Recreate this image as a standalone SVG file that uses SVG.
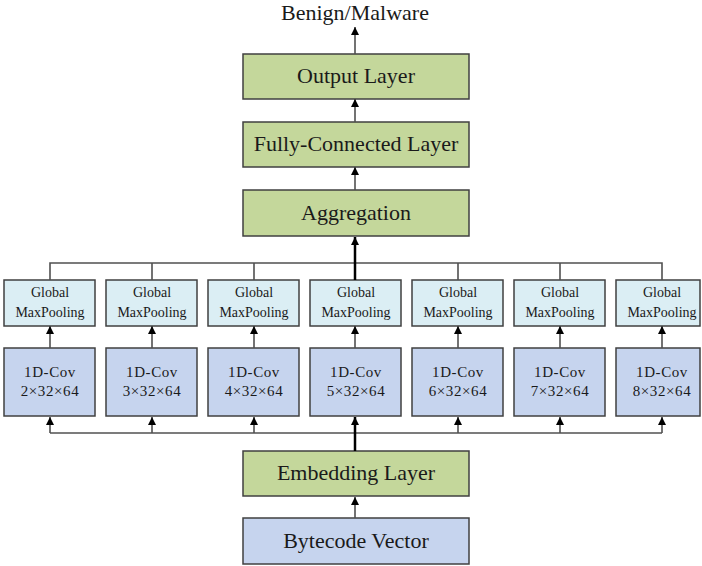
<svg xmlns="http://www.w3.org/2000/svg" width="702" height="566" viewBox="0 0 702 566">
<style>
text{font-family:"Liberation Serif","Times New Roman",serif;fill:#1a1a1a;text-anchor:middle}
.g{fill:#c4d79b;stroke:#404040;stroke-width:1.5}
.b{fill:#c6d4ee;stroke:#404040;stroke-width:1.5}
.p{fill:#dbeef4;stroke:#404040;stroke-width:1.5}
.big{font-size:22px}
.sm{font-size:14px}
.cv{font-size:15px;letter-spacing:0.6px}
.ln{stroke:#505050;stroke-width:1.6;fill:none}
.th{stroke:#000;stroke-width:2.5;fill:none}
</style>
<defs>
<marker id="ah" viewBox="0 0 10 10" refX="10" refY="5" markerWidth="8" markerHeight="8" markerUnits="userSpaceOnUse" orient="auto">
<path d="M0,0 L10,5 L0,10 z" fill="#000"/>
</marker>
</defs>
<text class="big" x="355" y="20">Benign/Malware</text>
<g id="output"><rect class="g" x="243" y="54" width="226" height="45"/><text class="big" x="356" y="83">Output Layer</text></g>
<g id="fc"><rect class="g" x="243" y="122" width="226" height="45"/><text class="big" x="356" y="151">Fully-Connected Layer</text></g>
<g id="agg"><rect class="g" x="243" y="190" width="226" height="46"/><text class="big" x="356" y="220">Aggregation</text></g>
<g id="emb"><rect class="g" x="243" y="451" width="226" height="45"/><text class="big" x="356" y="480">Embedding Layer</text></g>
<g id="byte"><rect class="b" x="243" y="518" width="226" height="46"/><text class="big" x="356" y="548">Bytecode Vector</text></g>
<g id="pool2"><rect class="p" x="4" y="280" width="91" height="46"/><text class="sm" x="50" y="297">Global</text><text class="sm" x="50" y="317">MaxPooling</text></g>
<g id="pool3"><rect class="p" x="106" y="280" width="91" height="46"/><text class="sm" x="152" y="297">Global</text><text class="sm" x="152" y="317">MaxPooling</text></g>
<g id="pool4"><rect class="p" x="208" y="280" width="91" height="46"/><text class="sm" x="254" y="297">Global</text><text class="sm" x="254" y="317">MaxPooling</text></g>
<g id="pool5"><rect class="p" x="310" y="280" width="91" height="46"/><text class="sm" x="356" y="297">Global</text><text class="sm" x="356" y="317">MaxPooling</text></g>
<g id="pool6"><rect class="p" x="412" y="280" width="91" height="46"/><text class="sm" x="458" y="297">Global</text><text class="sm" x="458" y="317">MaxPooling</text></g>
<g id="pool7"><rect class="p" x="514" y="280" width="91" height="46"/><text class="sm" x="560" y="297">Global</text><text class="sm" x="560" y="317">MaxPooling</text></g>
<g id="pool8"><rect class="p" x="616" y="280" width="84" height="46"/><text class="sm" x="662" y="297">Global</text><text class="sm" x="662" y="317">MaxPooling</text></g>
<g id="conv2"><rect class="b" x="4" y="348" width="91" height="68"/><text class="cv" x="50" y="377">1D-Cov</text><text class="cv" x="50" y="396">2×32×64</text></g>
<g id="conv3"><rect class="b" x="106" y="348" width="91" height="68"/><text class="cv" x="152" y="377">1D-Cov</text><text class="cv" x="152" y="396">3×32×64</text></g>
<g id="conv4"><rect class="b" x="208" y="348" width="91" height="68"/><text class="cv" x="254" y="377">1D-Cov</text><text class="cv" x="254" y="396">4×32×64</text></g>
<g id="conv5"><rect class="b" x="310" y="348" width="91" height="68"/><text class="cv" x="356" y="377">1D-Cov</text><text class="cv" x="356" y="396">5×32×64</text></g>
<g id="conv6"><rect class="b" x="412" y="348" width="91" height="68"/><text class="cv" x="458" y="377">1D-Cov</text><text class="cv" x="458" y="396">6×32×64</text></g>
<g id="conv7"><rect class="b" x="514" y="348" width="91" height="68"/><text class="cv" x="560" y="377">1D-Cov</text><text class="cv" x="560" y="396">7×32×64</text></g>
<g id="conv8"><rect class="b" x="616" y="348" width="84" height="68"/><text class="cv" x="662" y="377">1D-Cov</text><text class="cv" x="662" y="396">8×32×64</text></g>
<g id="connectors">
<line class="ln" x1="355" y1="54" x2="355" y2="27" marker-end="url(#ah)"/>
<line class="ln" x1="355" y1="122" x2="355" y2="99" marker-end="url(#ah)"/>
<line class="ln" x1="355" y1="190" x2="355" y2="167" marker-end="url(#ah)"/>
<path class="ln" d="M50,280 V263 H662 V280 M152,280 V263 M254,280 V263 M458,280 V263 M560,280 V263"/>
<line class="th" x1="355" y1="280" x2="355" y2="237" marker-end="url(#ah)"/>
<line class="ln" x1="50" y1="348" x2="50" y2="326" marker-end="url(#ah)"/>
<line class="ln" x1="152" y1="348" x2="152" y2="326" marker-end="url(#ah)"/>
<line class="ln" x1="254" y1="348" x2="254" y2="326" marker-end="url(#ah)"/>
<line class="ln" x1="355" y1="348" x2="355" y2="326" marker-end="url(#ah)"/>
<line class="ln" x1="458" y1="348" x2="458" y2="326" marker-end="url(#ah)"/>
<line class="ln" x1="560" y1="348" x2="560" y2="326" marker-end="url(#ah)"/>
<line class="ln" x1="662" y1="348" x2="662" y2="326" marker-end="url(#ah)"/>
<path class="ln" d="M50,433 H662"/>
<line class="ln" x1="50" y1="433" x2="50" y2="417" marker-end="url(#ah)"/>
<line class="ln" x1="152" y1="433" x2="152" y2="417" marker-end="url(#ah)"/>
<line class="ln" x1="254" y1="433" x2="254" y2="417" marker-end="url(#ah)"/>
<line class="th" x1="355" y1="451" x2="355" y2="417" marker-end="url(#ah)"/>
<line class="ln" x1="458" y1="433" x2="458" y2="417" marker-end="url(#ah)"/>
<line class="ln" x1="560" y1="433" x2="560" y2="417" marker-end="url(#ah)"/>
<line class="ln" x1="662" y1="433" x2="662" y2="417" marker-end="url(#ah)"/>
<line class="ln" x1="355" y1="518" x2="355" y2="497" marker-end="url(#ah)"/>
</g>
</svg>
